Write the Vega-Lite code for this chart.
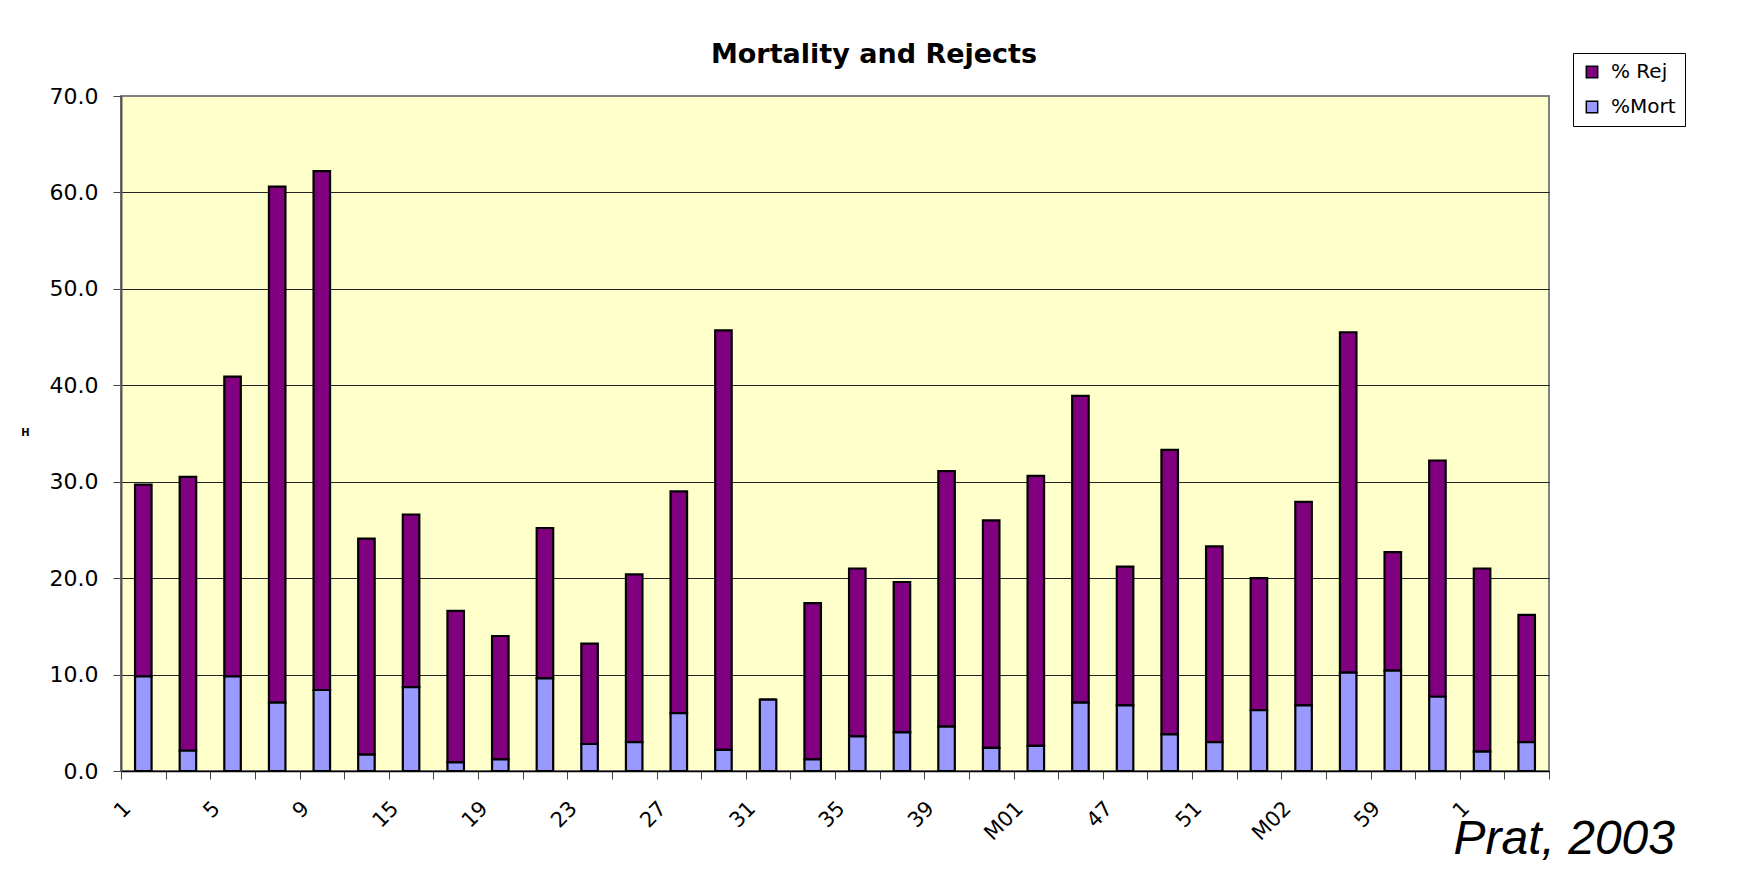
{
  "$schema": "https://vega.github.io/schema/vega-lite/v6.json",
  "width": 1428,
  "height": 675,
  "autosize": {"type": "none"},
  "padding": {"left": 121, "top": 96, "right": 188, "bottom": 102},
  "background": "white",
  "title": {"text": "Mortality and Rejects", "font": "DejaVu Sans", "fontSize": 27, "fontWeight": "bold", "color": "#000000", "anchor": "middle", "dx": 39, "baseline": "alphabetic", "offset": -37},
  "data": {"values": [
    {"site": "1", "%Mort": 9.8, "% Rej": 19.9},
    {"site": "3", "%Mort": 2.1, "% Rej": 28.4},
    {"site": "5", "%Mort": 9.8, "% Rej": 31.1},
    {"site": "7", "%Mort": 7.1, "% Rej": 53.5},
    {"site": "9", "%Mort": 8.4, "% Rej": 53.8},
    {"site": "13", "%Mort": 1.7, "% Rej": 22.4},
    {"site": "15", "%Mort": 8.7, "% Rej": 17.9},
    {"site": "17", "%Mort": 0.9, "% Rej": 15.7},
    {"site": "19", "%Mort": 1.2, "% Rej": 12.8},
    {"site": "21", "%Mort": 9.6, "% Rej": 15.6},
    {"site": "23", "%Mort": 2.8, "% Rej": 10.4},
    {"site": "25", "%Mort": 3.0, "% Rej": 17.4},
    {"site": "27", "%Mort": 6.0, "% Rej": 23.0},
    {"site": "29", "%Mort": 2.2, "% Rej": 43.5},
    {"site": "31", "%Mort": 7.4, "% Rej": 0},
    {"site": "33", "%Mort": 1.2, "% Rej": 16.2},
    {"site": "35", "%Mort": 3.6, "% Rej": 17.4},
    {"site": "37", "%Mort": 4.0, "% Rej": 15.6},
    {"site": "39", "%Mort": 4.6, "% Rej": 26.5},
    {"site": "41", "%Mort": 2.4, "% Rej": 23.6},
    {"site": "M01", "%Mort": 2.6, "% Rej": 28.0},
    {"site": "45", "%Mort": 7.1, "% Rej": 31.8},
    {"site": "47", "%Mort": 6.8, "% Rej": 14.4},
    {"site": "49", "%Mort": 3.8, "% Rej": 29.5},
    {"site": "51", "%Mort": 3.0, "% Rej": 20.3},
    {"site": "53", "%Mort": 6.3, "% Rej": 13.7},
    {"site": "M02", "%Mort": 6.8, "% Rej": 21.1},
    {"site": "57", "%Mort": 10.2, "% Rej": 35.3},
    {"site": "59", "%Mort": 10.4, "% Rej": 12.3},
    {"site": "61", "%Mort": 7.7, "% Rej": 24.5},
    {"site": "1\u200b", "%Mort": 2.0, "% Rej": 19.0},
    {"site": "3\u200b", "%Mort": 3.0, "% Rej": 13.2}
  ]},
  "transform": [{"fold": ["% Rej", "%Mort"], "as": ["series", "value"]}],
  "mark": {"type": "bar", "width": {"band": 0.37}, "stroke": "#000000", "strokeWidth": 2.2},
  "encoding": {
    "x": {
      "field": "site", "type": "nominal", "sort": null,
      "scale": {"paddingInner": 0, "paddingOuter": 0},
      "axis": {
        "title": "Prat, 2003", "titleFont": "Liberation Sans", "titleFontStyle": "italic", "titleFontWeight": "normal", "titleFontSize": 48, "titleColor": "#000000",
        "titleAlign": "left", "titleBaseline": "alphabetic", "titleX": 1332, "titleY": 82,
        "labelAngle": -45, "labelAlign": "right", "labelBaseline": "middle", "labelOffset": -16, "labelPadding": 26,
        "labelFont": "DejaVu Sans", "labelFontSize": 21, "labelColor": "#000000", "labelOverlap": false,
        "labelExpr": "indexof(['1','5','9','15','19','23','27','31','35','39','M01','47','51','M02','59','1\u200b'], datum.value) >= 0 ? datum.label : ''",
        "tickBand": "extent", "tickSize": 8, "tickColor": "#444444", "domainColor": "#000000", "domainWidth": 1.5, "grid": false
      }
    },
    "y": {
      "field": "value", "type": "quantitative", "stack": "zero",
      "scale": {"domain": [0, 70], "nice": false},
      "axis": {
        "title": "H", "titleFont": "DejaVu Sans", "titleFontSize": 10, "titleFontWeight": "bold", "titleColor": "#000000", "titleAngle": 0,
        "titleX": -96, "titleY": 336, "titleAlign": "center", "titleBaseline": "middle",
        "values": [0, 10, 20, 30, 40, 50, 60, 70], "format": ".1f",
        "labelFont": "DejaVu Sans", "labelFontSize": 22, "labelColor": "#000000", "labelPadding": 15,
        "tickSize": 8, "tickColor": "#444444", "domainColor": "#555555", "domainWidth": 2,
        "grid": true, "gridWidth": 1,
        "gridColor": {"condition": {"test": "datum.value == 70", "value": "#808080"}, "value": "#222222"}
      }
    },
    "color": {
      "field": "series", "type": "nominal",
      "scale": {"domain": ["% Rej", "%Mort"], "range": ["#800080", "#9999FF"]},
      "legend": {
        "title": null, "orient": "none", "legendX": 1452, "legendY": -43, "padding": 9,
        "strokeColor": "#000000", "fillColor": "#FFFFFF", "symbolType": "square", "symbolSize": 130,
        "symbolStrokeColor": "#000000", "symbolStrokeWidth": 1.5, "symbolOpacity": 1,
        "labelFont": "DejaVu Sans", "labelFontSize": 20, "labelColor": "#000000", "labelOffset": 9, "rowPadding": 15
      }
    },
    "order": {"field": "series", "sort": "descending"}
  },
  "config": {"view": {"fill": "#FFFFCC", "stroke": "#808080", "strokeWidth": 2}}
}
